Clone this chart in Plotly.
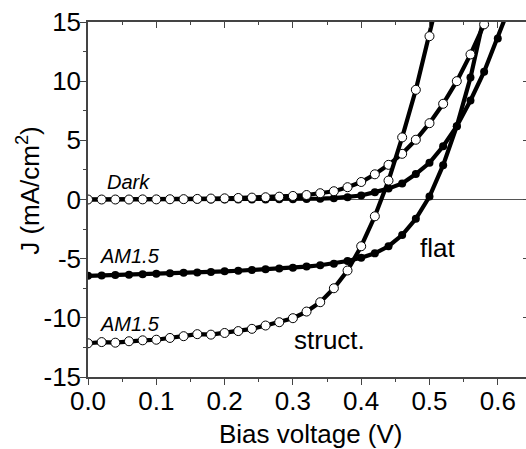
import plotly.graph_objects as go

# Bias voltage sweep (V), 20 mV steps
v_flat_dark = [0.00, 0.02, 0.04, 0.06, 0.08, 0.10, 0.12, 0.14, 0.16, 0.18, 0.20, 0.22, 0.24, 0.26,
               0.28, 0.30, 0.32, 0.34, 0.36, 0.38, 0.40, 0.42, 0.44, 0.46, 0.48, 0.50, 0.52, 0.54,
               0.56, 0.58, 0.60, 0.62]
j_flat_dark = [0.0, 0.0, 0.0, 0.0, 0.0, 0.0, 0.0, 0.0, 0.0, 0.0, 0.0, 0.01, 0.01, 0.01,
               0.02, 0.03, 0.05, 0.07, 0.11, 0.19, 0.34, 0.62, 0.92, 1.36, 2.15, 3.10, 4.50, 6.20,
               8.37, 10.8, 13.6, 16.7]

v_flat_light = [0.00, 0.02, 0.04, 0.06, 0.08, 0.10, 0.12, 0.14, 0.16, 0.18, 0.20, 0.22, 0.24, 0.26,
                0.28, 0.30, 0.32, 0.34, 0.36, 0.38, 0.40, 0.42, 0.44, 0.46, 0.48, 0.50, 0.52, 0.54,
                0.56, 0.58]
j_flat_light = [-6.45, -6.42, -6.38, -6.35, -6.31, -6.28, -6.24, -6.20, -6.16, -6.12, -6.07, -6.02,
                -5.96, -5.90, -5.83, -5.76, -5.67, -5.56, -5.42, -5.20, -4.93, -4.55, -3.95, -3.00,
                -1.63, 0.25, 2.90, 6.20, 10.3, 15.5]

v_struct_dark = [0.00, 0.02, 0.04, 0.06, 0.08, 0.10, 0.12, 0.14, 0.16, 0.18, 0.20, 0.22, 0.24, 0.26,
                 0.28, 0.30, 0.32, 0.34, 0.36, 0.38, 0.40, 0.42, 0.44, 0.46, 0.48, 0.50, 0.52, 0.54,
                 0.56, 0.58, 0.60]
j_struct_dark = [0.0, 0.0, 0.0, 0.0, 0.01, 0.01, 0.02, 0.03, 0.05, 0.08, 0.10, 0.13, 0.16, 0.19,
                 0.24, 0.30, 0.38, 0.53, 0.70, 1.04, 1.48, 2.13, 2.93, 3.86, 5.05, 6.45, 8.09, 10.0,
                 12.26, 14.8, 17.6]

v_struct_light = [0.00, 0.02, 0.04, 0.06, 0.08, 0.10, 0.12, 0.14, 0.16, 0.18, 0.20, 0.22, 0.24, 0.26,
                  0.28, 0.30, 0.32, 0.34, 0.36, 0.38, 0.40, 0.42, 0.44, 0.46, 0.48, 0.50, 0.52]
j_struct_light = [-12.15, -12.05, -12.10, -11.98, -11.90, -11.85, -11.70, -11.55, -11.38, -11.42,
                  -11.28, -11.12, -10.93, -10.65, -10.37, -10.03, -9.47, -8.68, -7.50, -6.00, -3.95,
                  -1.42, 1.60, 5.25, 9.27, 13.8, 18.8]

x_ticks = [0.0, 0.1, 0.2, 0.3, 0.4, 0.5, 0.6]
y_ticks = [-15, -10, -5, 0, 5, 10, 15]

FONT = "Liberation Sans, Arial, sans-serif"
LW = 4.2

filled = dict(symbol="circle", size=8, color="black", line=dict(color="black", width=0))
hollow = dict(symbol="circle", size=9, color="white", line=dict(color="black", width=1))

fig = go.Figure()
fig.add_trace(go.Scatter(x=v_flat_dark, y=j_flat_dark, mode="lines+markers",
                         line=dict(color="black", width=LW), marker=filled, name="flat dark"))
fig.add_trace(go.Scatter(x=v_flat_light, y=j_flat_light, mode="lines+markers",
                         line=dict(color="black", width=LW), marker=filled, name="flat AM1.5"))
fig.add_trace(go.Scatter(x=v_struct_dark, y=j_struct_dark, mode="lines+markers",
                         line=dict(color="black", width=LW), marker=hollow, name="struct. dark"))
fig.add_trace(go.Scatter(x=v_struct_light, y=j_struct_light, mode="lines+markers",
                         line=dict(color="black", width=LW), marker=hollow, name="struct. AM1.5"))
# carrier traces for the extra frame / tick axes
for xa, ya in [("x2", "y"), ("x3", "y"), ("x", "y2"), ("x", "y3")]:
    fig.add_trace(go.Scatter(x=[None], y=[None], xaxis=xa, yaxis=ya,
                             showlegend=False, hoverinfo="skip"))

axis_col = "#444444"
x_range = [0, 0.6413]
y_range = [-15, 15]

tick_common = dict(tickwidth=1.3, tickcolor=axis_col, showgrid=False, zeroline=False,
                   showticklabels=False)

fig.update_layout(
    width=526, height=449,
    margin=dict(l=88, r=0, t=22, b=72, autoexpand=False),
    plot_bgcolor="white", paper_bgcolor="white",
    showlegend=False,
    font=dict(family=FONT, color="black"),
    # bottom axis: line + labels
    xaxis=dict(range=x_range, tickvals=x_ticks, ticktext=[f"{t:.1f}" for t in x_ticks],
               ticks="", showline=True, linecolor=axis_col, linewidth=1.5, showgrid=False,
               zeroline=False, tickfont=dict(size=26, family=FONT), automargin=False),
    # top frame, ticks pointing in
    xaxis2=dict(matches="x", overlaying="x", side="top", anchor="y", range=x_range,
                tickvals=x_ticks, ticks="inside", ticklen=6,
                minor=dict(dtick=0.05, ticks="inside", ticklen=3, tickwidth=1.2, tickcolor=axis_col),
                showline=True, linecolor=axis_col, linewidth=1.5, **tick_common),
    # bottom ticks pointing out
    xaxis3=dict(matches="x", overlaying="x", side="bottom", anchor="y", range=x_range,
                tickvals=x_ticks, ticks="outside", ticklen=7,
                minor=dict(dtick=0.05, ticks="outside", ticklen=4, tickwidth=1.2, tickcolor=axis_col),
                showline=False, **tick_common),
    # left axis: line + labels
    yaxis=dict(range=y_range, tickvals=y_ticks, ticktext=[str(t) for t in y_ticks],
               ticks="", showline=True, linecolor=axis_col, linewidth=1.5, showgrid=False,
               zeroline=True, zerolinecolor="#555555", zerolinewidth=1.3,
               tickfont=dict(size=26, family=FONT), automargin=False),
    # left ticks pointing out
    yaxis2=dict(matches="y", overlaying="y", side="left", anchor="x", range=y_range,
                tickvals=y_ticks, ticks="outside", ticklen=7,
                minor=dict(dtick=2.5, ticks="outside", ticklen=4, tickwidth=1.2, tickcolor=axis_col),
                showline=False, **tick_common),
    # right frame ticks (frame line lies just beyond the plotted range)
    yaxis3=dict(matches="y", overlaying="y", side="right", anchor="x", range=y_range,
                tickvals=y_ticks, ticks="inside", ticklen=3, showline=False, **tick_common),
)

# curve labels
labels = [
    (0.060, 1.45, "<i>Dark</i>", 20),
    (0.061, -4.8, "<i>AM1.5</i>", 20),
    (0.061, -10.5, "<i>AM1.5</i>", 20),
    (0.512, -4.1, "flat", 26),
    (0.354, -11.9, "struct.", 26),
]
for x, y, t, s in labels:
    fig.add_annotation(x=x, y=y, xref="x", yref="y", text=t, showarrow=False,
                       font=dict(size=s, family=FONT, color="black"),
                       xanchor="center", yanchor="middle")

# axis titles
fig.add_annotation(x=0.508, y=-0.16, xref="paper", yref="paper", text="Bias voltage (V)",
                   showarrow=False, font=dict(size=26, family=FONT, color="black"),
                   xanchor="center", yanchor="middle")
fig.add_annotation(x=-0.135, y=0.527, xref="paper", yref="paper", text="J (mA/cm<sup>2</sup>)",
                   showarrow=False, textangle=-90, font=dict(size=26, family=FONT, color="black"),
                   xanchor="center", yanchor="middle")

fig.write_html("out.html")
